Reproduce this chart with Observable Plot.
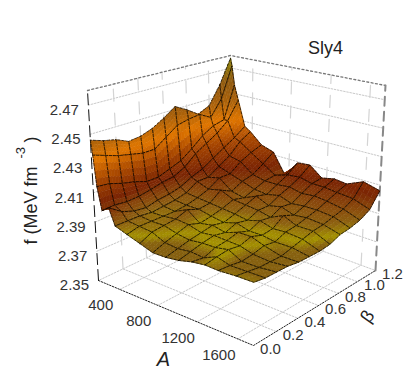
<!DOCTYPE html>
<html>
<head>
<meta charset="utf-8">
<style>html,body{margin:0;padding:0;background:#fff}svg{display:block}</style>
<script src="https://cdn.jsdelivr.net/npm/d3@7"></script>
<script src="https://cdn.jsdelivr.net/npm/@observablehq/plot@0.6"></script>
</head>
<body>
<script>
const massNumbers = [170,185,210,250,320,380,500,630,760,890,1020,1150,1280,1410,1580,1750];
const betaValues = [0,0.1,0.2,0.3,0.4,0.5,0.6,0.7,0.8,0.9,1.0,1.1,1.2];
const energyDensity = [
[2.446,2.443,2.441,2.437,2.438,2.441,2.446,2.452,2.447,2.441,2.445,2.459,2.478],
[2.436,2.433,2.430,2.428,2.426,2.426,2.432,2.438,2.440,2.441,2.436,2.448,2.472],
[2.415,2.414,2.411,2.409,2.406,2.406,2.409,2.412,2.418,2.425,2.430,2.432,2.457],
[2.3995,2.400,2.399,2.3995,2.401,2.403,2.404,2.408,2.415,2.420,2.425,2.432,2.4455],
[2.403,2.397,2.394,2.393,2.395,2.396,2.398,2.402,2.405,2.410,2.415,2.420,2.426],
[2.392,2.392,2.392,2.391,2.392,2.393,2.395,2.400,2.400,2.405,2.410,2.418,2.423],
[2.389,2.391,2.391,2.391,2.391,2.392,2.394,2.397,2.402,2.402,2.408,2.412,2.415],
[2.386,2.390,2.391,2.392,2.395,2.392,2.393,2.399,2.395,2.399,2.401,2.406,2.412],
[2.383,2.386,2.3885,2.391,2.3885,2.390,2.392,2.395,2.393,2.396,2.399,2.400,2.397],
[2.383,2.385,2.387,2.3885,2.390,2.3885,2.391,2.394,2.397,2.395,2.399,2.403,2.409],
[2.384,2.386,2.388,2.3895,2.388,2.391,2.3895,2.393,2.393,2.397,2.400,2.404,2.410],
[2.386,2.385,2.388,2.389,2.391,2.3885,2.392,2.391,2.395,2.394,2.398,2.402,2.403],
[2.387,2.3885,2.3895,2.3885,2.391,2.3885,2.3895,2.395,2.392,2.395,2.399,2.402,2.405],
[2.3865,2.386,2.385,2.386,2.388,2.387,2.390,2.391,2.393,2.395,2.398,2.401,2.404],
[2.387,2.386,2.385,2.385,2.385,2.387,2.389,2.391,2.392,2.394,2.396,2.400,2.409],
[2.387,2.386,2.386,2.386,2.385,2.385,2.385,2.386,2.389,2.390,2.392,2.396,2.406]
];
const massTicks = [400,800,1200,1600];
const betaTicks = [0,0.2,0.4,0.6,0.8,1.0,1.2];
const energyTicks = [2.35,2.37,2.39,2.41,2.43,2.45,2.47];
const colorStops = [2.375,2.386,2.3885,2.392,2.396,2.404,2.418,2.432,2.446,2.462,2.478];
const colorValues = ["#7d5a10","#86600f","#a49200","#8c6010","#8a4c0c","#7a2403","#a54500","#e07600","#a8600a","#8f5a10","#8a8200"];
const zFloor = 2.35, zTop = 2.48;
const aMin = massNumbers[0], aMax = massNumbers[massNumbers.length-1], bMax = 1.2;

// camera: corners of the box floor and lid, in the order (Amin,0) (Amax,0) (Amax,bMax) (Amin,bMax)
const floorQuad = [[98,280],[253,345],[375,270],[231,217]];
const lidQuad = [[87,90],[254,123],[385,85],[230,55]];
function quadMap(q){
  const [[x0,y0],[x1,y1],[x2,y2],[x3,y3]] = q;
  const sx=x0-x1+x2-x3, sy=y0-y1+y2-y3, dx1=x1-x2, dx2=x3-x2, dy1=y1-y2, dy2=y3-y2;
  const d=dx1*dy2-dx2*dy1, g=(sx*dy2-dx2*sy)/d, h=(dx1*sy-sx*dy1)/d;
  const a=x1-x0+g*x1, b=x3-x0+h*x3, e=y1-y0+g*y1, f=y3-y0+h*y3;
  return (u,v)=>{const w=g*u+h*v+1; return [(a*u+b*v+x0)/w,(e*u+f*v+y0)/w];};
}
const mapFloor=quadMap(floorQuad), mapLid=quadMap(lidQuad);
function project(A,beta,f){
  const u=(A-aMin)/(aMax-aMin), v=beta/bMax, w=(f-zFloor)/(zTop-zFloor);
  const p=mapFloor(u,v), q=mapLid(u,v);
  return [p[0]+(q[0]-p[0])*w, p[1]+(q[1]-p[1])*w];
}
const colorOf = d3.scaleLinear().domain(colorStops).range(colorValues).clamp(true);

const px=d=>d.p[0], py=d=>d.p[1];
function pathLine(points,opts){
  const rows=points.map(([a,b,f])=>({p:project(a,b,f)}));
  return Plot.line(rows,{x:px,y:py,...opts});
}
const gridStyle={stroke:"#c9c9c9",strokeWidth:1,strokeDasharray:"1.6,1.6"};
const wallStyle={stroke:"#d4d4d4",strokeWidth:1.2,strokeDasharray:"12,12"};
const marks=[];
// floor grid
massTicks.forEach(a=>marks.push(pathLine([[a,0,zFloor],[a,bMax,zFloor]],gridStyle)));
betaTicks.slice(1,-1).forEach(b=>marks.push(pathLine([[aMin,b,zFloor],[aMax,b,zFloor]],gridStyle)));
marks.push(pathLine([[aMin,bMax,zFloor],[aMin,0,zFloor]],gridStyle));
marks.push(pathLine([[aMin,bMax,zFloor],[aMax,bMax,zFloor]],gridStyle));
// wall grid
energyTicks.slice(1).forEach(f=>{
  marks.push(pathLine([[aMin,0,f],[aMin,bMax,f],[aMax,bMax,f]],gridStyle));
});
betaTicks.slice(1,-1).forEach(b=>marks.push(pathLine([[aMin,b,zFloor],[aMin,b,zTop]],wallStyle)));
massTicks.forEach(a=>marks.push(pathLine([[a,bMax,zFloor],[a,bMax,zTop]],wallStyle)));
// box
marks.push(pathLine([[aMin,0,zTop],[aMin,bMax,zTop],[aMax,bMax,zTop]],{stroke:"#777",strokeWidth:1.3,strokeDasharray:"2,2.4"}));
marks.push(pathLine([[aMin,0,zFloor],[aMax,0,zFloor],[aMax,bMax,zFloor]],{stroke:"#222",strokeWidth:1,strokeDasharray:"1.5,1.5"}));
marks.push(pathLine([[aMin,0,zFloor],[aMin,0,zTop]],{stroke:"#111",strokeWidth:1,strokeDasharray:"11,5"}));
marks.push(pathLine([[aMax,bMax,zFloor],[aMax,bMax,zTop]],{stroke:"#888",strokeWidth:2,strokeDasharray:"9,6"}));

// surface, painted from the far corner towards the viewer
const sub=4;
for(let i=0;i<massNumbers.length-1;i++){
  for(let j=betaValues.length-2;j>=0;j--){
    const a0=massNumbers[i],a1=massNumbers[i+1],b0=betaValues[j],b1=betaValues[j+1];
    const f00=energyDensity[i][j],f01=energyDensity[i][j+1],f10=energyDensity[i+1][j],f11=energyDensity[i+1][j+1];
    const at=(s,t)=>{
      const f=f00*(1-s)*(1-t)+f10*s*(1-t)+f11*s*t+f01*(1-s)*t;
      return {p:project(a0+(a1-a0)*s,b0+(b1-b0)*t,f),f};
    };
    const rows=[];
    for(let m=0;m<sub;m++)for(let n=0;n<sub;n++){
      const c=[at(m/sub,n/sub),at((m+1)/sub,n/sub),at((m+1)/sub,(n+1)/sub),at(m/sub,(n+1)/sub)];
      const col=colorOf(d3.mean(c,d=>d.f));
      c.forEach(d=>rows.push({p:d.p,id:m*sub+n,col}));
    }
    marks.push(Plot.line(rows,{x:px,y:py,z:"id",fill:"col",stroke:"col",strokeWidth:0.7}));
    marks.push(pathLine([[a0,b0,f00],[a1,b0,f10],[a1,b1,f11],[a0,b1,f01],[a0,b0,f00]],{stroke:"#000",strokeWidth:0.7,strokeDasharray:"2.6,1.6"}));
  }
}
// tick labels
const tickText={fontFamily:"Liberation Sans",fontSize:15,fill:"#333"};
marks.push(Plot.text(massTicks,{x:a=>project(a,0,zFloor)[0],y:a=>project(a,0,zFloor)[1],text:d=>String(d),dx:-19,dy:16,...tickText}));
marks.push(Plot.text(betaTicks,{x:b=>project(aMax,b,zFloor)[0],y:b=>project(aMax,b,zFloor)[1],text:d=>d.toFixed(1),dx:17,dy:4,...tickText}));
marks.push(Plot.text(energyTicks,{x:f=>project(aMin,0,f)[0],y:f=>project(aMin,0,f)[1],text:d=>d.toFixed(2),dx:-9.5,dy:5,textAnchor:"end",...tickText}));
// titles
const label={fontFamily:"Liberation Sans",fill:"#222"};
marks.push(Plot.text(["Sly4"],{x:[325],y:[48],text:d=>d,fontSize:18,...label}));
marks.push(Plot.text(["f (MeV fm"],{x:[31],y:[244],text:d=>d,fontSize:18,rotate:-90,textAnchor:"start",...label}));
marks.push(Plot.text(["-3"],{x:[20],y:[158],text:d=>d,fontSize:13,rotate:-90,textAnchor:"start",...label}));
marks.push(Plot.text([")"],{x:[31],y:[142],text:d=>d,fontSize:18,rotate:-90,textAnchor:"start",...label}));
marks.push(Plot.text(["A"],{x:[163],y:[359],text:d=>d,fontSize:20,fontStyle:"italic",...label}));
marks.push(Plot.text(["β"],{x:[367],y:[316],text:d=>d,fontSize:18,rotate:-55,...label}));

document.body.append(Plot.plot({
  width:420,height:392,margin:0,
  x:{domain:[0,420],range:[0,420],axis:null},
  y:{domain:[0,392],range:[0,392],axis:null},
  color:{type:"identity"},
  marks
}));
</script>
</body>
</html>
